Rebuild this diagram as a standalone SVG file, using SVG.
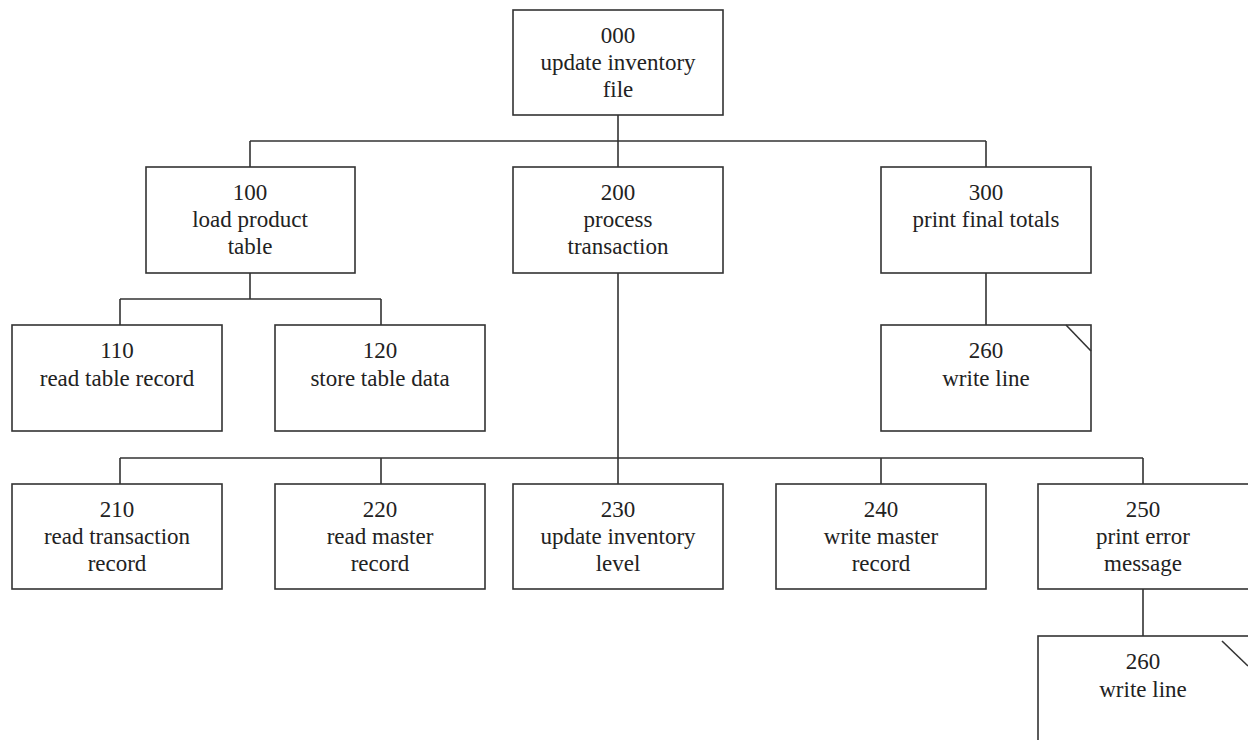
<svg xmlns="http://www.w3.org/2000/svg" width="1248" height="740" viewBox="0 0 1248 740">
<style>
.box{fill:#fff;stroke:#333;stroke-width:1.6}
.c{fill:none;stroke:#333;stroke-width:1.6}
text{font-family:"Liberation Serif","Times New Roman",serif;font-size:23px;fill:#222;text-anchor:middle}
</style>
<rect width="1248" height="740" fill="#fff"/>
<g id="connectors" class="c">
<path d="M618 115V167M250 141H986M250 141V167M986 141V167"/>
<path d="M250 273V299M120 299H381M120 299V325M381 299V325"/>
<path d="M618 273V484M120 458H1143M120 458V484M381 458V484M881 458V484M1143 458V484"/>
<path d="M986 273V325"/>
<path d="M1143 589V636"/>
</g>
<g id="n000"><rect class="box" x="513" y="10" width="210" height="105"/><text x="618" y="43">000</text><text x="618" y="70">update inventory</text><text x="618" y="97">file</text></g>
<g id="n100"><rect class="box" x="146" y="167" width="209" height="106"/><text x="250" y="200">100</text><text x="250" y="227">load product</text><text x="250" y="254">table</text></g>
<g id="n200"><rect class="box" x="513" y="167" width="210" height="106"/><text x="618" y="200">200</text><text x="618" y="227">process</text><text x="618" y="254">transaction</text></g>
<g id="n300"><rect class="box" x="881" y="167" width="210" height="106"/><text x="986" y="200">300</text><text x="986" y="227">print final totals</text></g>
<g id="n110"><rect class="box" x="12" y="325" width="210" height="106"/><text x="117" y="358">110</text><text x="117" y="386">read table record</text></g>
<g id="n120"><rect class="box" x="275" y="325" width="210" height="106"/><text x="380" y="358">120</text><text x="380" y="386">store table data</text></g>
<g id="n260a"><rect class="box" x="881" y="325" width="210" height="106"/><path class="c" d="M1066 325L1091 351"/><text x="986" y="358">260</text><text x="986" y="386">write line</text></g>
<g id="n210"><rect class="box" x="12" y="484" width="210" height="105"/><text x="117" y="517">210</text><text x="117" y="544">read transaction</text><text x="117" y="571">record</text></g>
<g id="n220"><rect class="box" x="275" y="484" width="210" height="105"/><text x="380" y="517">220</text><text x="380" y="544">read master</text><text x="380" y="571">record</text></g>
<g id="n230"><rect class="box" x="513" y="484" width="210" height="105"/><text x="618" y="517">230</text><text x="618" y="544">update inventory</text><text x="618" y="571">level</text></g>
<g id="n240"><rect class="box" x="776" y="484" width="210" height="105"/><text x="881" y="517">240</text><text x="881" y="544">write master</text><text x="881" y="571">record</text></g>
<g id="n250"><rect class="box" x="1038" y="484" width="212" height="105"/><text x="1143" y="517">250</text><text x="1143" y="544">print error</text><text x="1143" y="571">message</text></g>
<g id="n260b"><rect class="box" x="1038" y="636" width="212" height="106"/><path class="c" d="M1222 641L1248 666"/><text x="1143" y="669">260</text><text x="1143" y="697">write line</text></g>
</svg>
